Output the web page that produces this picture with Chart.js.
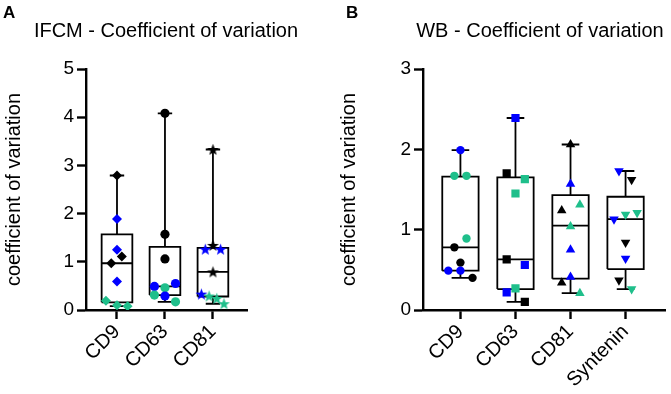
<!DOCTYPE html>
<html lang="en">
<head>
  <meta charset="UTF-8">
  <title>Coefficient of variation</title>
  <script src="https://cdn.jsdelivr.net/npm/chart.js@4.4.1/dist/chart.umd.min.js"></script>
  <style>
    body { margin: 0; background: #fff; }
    #wrap { position: relative; width: 671px; height: 394px; }
    canvas { position: absolute; top: 0; }
    .tag { position: absolute; font: bold 17px "Liberation Sans", Arial, sans-serif; color: #000; }
    .ttl { position: absolute; top: 20px; width: 300px; text-align: center; white-space: nowrap;
           font: 20px/20px "Liberation Sans", Arial, sans-serif; color: #000; }
  </style>
</head>
<body>
<div id="wrap">
  <canvas id="chartA" width="335" height="394" style="left:0"></canvas>
  <canvas id="chartB" width="336" height="394" style="left:335px"></canvas>
  <div class="tag" style="left:3px;top:3px">A</div>
  <div class="tag" style="left:346px;top:3px">B</div>
  <div class="ttl" style="left:16px">IFCM - Coefficient of variation</div>
  <div class="ttl" style="left:390px">WB - Coefficient of variation</div>
</div>

<script>
// ---- IFCM panel (A) ----
const ifcmCategories = ['CD9', 'CD63', 'CD81'];
const ifcmMin    = [0.08, 0.17, 0.13];
const ifcmQ1     = [0.16, 0.31, 0.28];
const ifcmMedian = [0.97, 0.49, 0.79];
const ifcmQ3     = [1.57, 1.31, 1.29];
const ifcmMax    = [2.79, 4.08, 3.33];
const ifcmValues = [
  [2.79, 1.89, 1.25, 1.11, 0.97, 0.59, 0.19, 0.10, 0.08],
  [4.08, 1.57, 1.06, 0.55, 0.49, 0.46, 0.31, 0.29, 0.17],
  [3.33, 1.34, 1.26, 1.26, 0.79, 0.33, 0.29, 0.24, 0.13]
];
// replicate of each point: k = black, b = blue, g = green
const ifcmReplicate = [
  ['k', 'b', 'b', 'k', 'k', 'b', 'g', 'g', 'g'],
  ['k', 'k', 'k', 'b', 'b', 'g', 'g', 'b', 'g'],
  ['k', 'k', 'b', 'b', 'k', 'b', 'g', 'g', 'g']
];
const ifcmYTicks = [0, 1, 2, 3, 4, 5];

// ---- WB panel (B) ----
const wbCategories = ['CD9', 'CD63', 'CD81', 'Syntenin'];
const wbMin    = [0.40, 0.10, 0.21, 0.26];
const wbQ1     = [0.49, 0.26, 0.39, 0.51];
const wbMedian = [0.78, 0.63, 1.05, 1.13];
const wbQ3     = [1.66, 1.65, 1.43, 1.41];
const wbMax    = [1.99, 2.39, 2.06, 1.73];
const wbValues = [
  [1.99, 1.67, 1.67, 0.89, 0.78, 0.59, 0.49, 0.49, 0.40],
  [2.39, 1.70, 1.63, 1.45, 0.63, 0.56, 0.27, 0.22, 0.10],
  [2.06, 1.57, 1.31, 1.24, 1.04, 0.75, 0.41, 0.34, 0.21],
  [1.73, 1.62, 1.21, 1.19, 1.13, 0.84, 0.64, 0.37, 0.26]
];
const wbReplicate = [
  ['b', 'g', 'g', 'g', 'k', 'k', 'b', 'b', 'k'],
  ['b', 'k', 'g', 'g', 'k', 'b', 'g', 'b', 'k'],
  ['k', 'b', 'g', 'k', 'g', 'b', 'b', 'k', 'g'],
  ['b', 'k', 'g', 'g', 'b', 'k', 'b', 'k', 'g']
];
const wbYTicks = [0, 1, 2, 3];

// horizontal scatter of the points inside each box (layout only)
const ifcmJitter = [
  [0, 0, 0, 0.10, -0.12, 0, -0.23, 0, 0.22],
  [0, 0, 0, 0.22, -0.22, 0, -0.22, 0, 0.22],
  [0, 0, -0.16, 0.16, 0, -0.24, -0.08, 0.08, 0.23]
];
const wbJitter = [
  [0, -0.11, 0.11, 0.11, -0.11, 0, -0.22, 0, 0.22],
  [0, -0.16, 0.17, 0, -0.16, 0.17, 0, -0.16, 0.17],
  [0, 0, 0.17, -0.16, 0, 0, 0, -0.16, 0.17],
  [-0.12, 0.11, 0.21, 0, -0.21, 0, 0, -0.12, 0.11]
];

const palette = { k: '#000000', b: '#0000ff', g: '#1fbf8b' };
const FONT = '"Liberation Sans", Arial, sans-serif';

// filled five point star used as a point image
function starImage(color) {
  const c = document.createElement('canvas');
  c.width = 13; c.height = 13;
  const g = c.getContext('2d');
  g.fillStyle = color;
  g.beginPath();
  for (let i = 0; i < 10; i++) {
    const r = i % 2 ? 2.6 : 6.2;
    const a = -Math.PI / 2 + i * Math.PI / 5;
    g.lineTo(6.5 + r * Math.cos(a), 7 + r * Math.sin(a));
  }
  g.closePath();
  g.fill();
  return c;
}

function lineSet(data, width) {
  return {
    type: 'scatter', data, showLine: true, spanGaps: false,
    borderColor: '#000', borderWidth: width, pointRadius: 0,
    borderJoinStyle: 'miter', order: 2
  };
}

function makePanel(id, o) {
  const n = o.cats.length;
  const box = [], med = [], whisk = [], caps = [];
  for (let i = 0; i < n; i++) {
    const x = i + 1, h = o.boxHalf, c = o.capHalf;
    box.push({x: x - h, y: o.q1[i]}, {x: x + h, y: o.q1[i]}, {x: x + h, y: o.q3[i]},
             {x: x - h, y: o.q3[i]}, {x: x - h, y: o.q1[i]}, {x: x, y: null});
    med.push({x: x - h, y: o.med[i]}, {x: x + h, y: o.med[i]}, {x: x, y: null});
    whisk.push({x: x, y: o.q3[i]}, {x: x, y: o.max[i]}, {x: x, y: null},
               {x: x, y: o.q1[i]}, {x: x, y: o.min[i]}, {x: x, y: null});
    caps.push({x: x - c, y: o.max[i]}, {x: x + c, y: o.max[i]}, {x: x, y: null},
              {x: x - c, y: o.min[i]}, {x: x + c, y: o.min[i]}, {x: x, y: null});
  }

  const pointSets = o.values.map((vals, i) => {
    const cols = o.rep[i].map(r => palette[r]);
    const st = o.styles[i];
    return {
      type: 'scatter',
      data: vals.map((v, j) => ({x: i + 1 + o.jitter[i][j], y: v})),
      pointStyle: st.style === 'star' ? cols.map(starImage) : st.style,
      pointRotation: st.rotation || 0,
      pointRadius: st.radius,
      pointBackgroundColor: cols,
      pointBorderColor: cols,
      pointBorderWidth: 0,
      order: 0
    };
  });

  const axisCommon = {
    grid: {drawOnChartArea: false, tickLength: 9, tickWidth: 2.4, tickColor: '#000'},
    border: {color: '#000', width: 2.4}
  };

  return new Chart(document.getElementById(id), {
    data: {
      datasets: [
        ...pointSets,
        lineSet(box, 1.8), lineSet(med, 1.8), lineSet(whisk, 1.8), lineSet(caps, 1.8)
      ]
    },
    options: {
      responsive: false,
      animation: false,
      layout: {padding: {left: 0, right: o.rightPad, top: 69, bottom: 0}},
      plugins: {
        legend: {display: false},
        tooltip: {enabled: false}
      },
      scales: {
        x: {
          type: 'linear', min: o.xMin, max: o.xMax,
          afterBuildTicks: s => { s.ticks = o.cats.map((c, i) => ({value: i + 1})); },
          afterFit: s => { s.height = 84; },
          ticks: {
            callback: (v, i) => o.cats[i], autoSkip: false,
            maxRotation: 45, minRotation: 45, color: '#000',
            font: {family: FONT, size: 20}, padding: 1
          },
          ...axisCommon
        },
        y: {
          min: 0, max: o.yTicks[o.yTicks.length - 1],
          afterBuildTicks: s => { s.ticks = o.yTicks.map(v => ({value: v})); },
          afterFit: s => { s.width = o.yWidth; },
          ticks: {color: '#000', font: {family: FONT, size: 19}, padding: 3},
          title: {
            display: true, text: 'coefficient of variation', color: '#000',
            font: {family: FONT, size: 20}, padding: {top: 2, bottom: 0}
          },
          ...axisCommon
        }
      }
    }
  });
}

makePanel('chartA', {
  cats: ifcmCategories, min: ifcmMin, q1: ifcmQ1, med: ifcmMedian, q3: ifcmQ3, max: ifcmMax,
  values: ifcmValues, rep: ifcmReplicate, jitter: ifcmJitter, yTicks: ifcmYTicks,
  styles: [{style: 'rectRot', radius: 5}, {style: 'circle', radius: 4.6}, {style: 'star', radius: 6}],
  xMin: 0.354, xMax: 3.71, boxHalf: 0.32, capHalf: 0.15, yWidth: 86, rightPad: 88
});

makePanel('chartB', {
  cats: wbCategories, min: wbMin, q1: wbQ1, med: wbMedian, q3: wbQ3, max: wbMax,
  values: wbValues, rep: wbReplicate, jitter: wbJitter, yTicks: wbYTicks,
  styles: [{style: 'circle', radius: 4.2}, {style: 'rect', radius: 5.8},
           {style: 'triangle', radius: 5.5}, {style: 'triangle', radius: 5.5, rotation: 180}],
  xMin: 0.32, xMax: 4.72, boxHalf: 0.33, capHalf: 0.16, yWidth: 88, rightPad: 3
});
</script>
</body>
</html>
